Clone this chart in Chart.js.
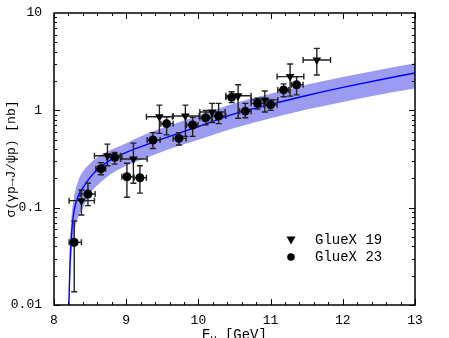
<!DOCTYPE html>
<html>
<head>
<meta charset="utf-8">
<script src="https://cdn.jsdelivr.net/npm/chart.js@4"></script>
<style>
  html, body { margin: 0; padding: 0; background: #fff; }
  #chart { display: block; }
</style>
</head>
<body>
<canvas id="chart" width="449" height="338"></canvas>
<script>
// x ticks and y tick labels
const xTicks = [8, 9, 10, 11, 12, 13];
const yTickLabels = [0.01, 0.1, 1, 10];

// GlueX 19 (triangles)
const g19E = [8.38, 8.74, 9.10, 9.46, 9.82, 10.19, 10.55, 10.92, 11.27, 11.64];
const g19Sigma = [0.118, 0.342, 0.316, 0.86, 0.875, 0.96, 1.41, 1.28, 2.22, 3.29];
const g19Up = [0.152, 0.45, 0.46, 1.13, 1.13, 1.18, 1.83, 1.58, 2.99, 4.33];
const g19Down = [0.084, 0.27, 0.178, 0.58, 0.54, 0.75, 0.83, 0.96, 1.40, 2.31];
const g19ELo = [8.21, 8.56, 8.92, 9.28, 9.65, 10.02, 10.38, 10.73, 11.09, 11.45];
const g19EHi = [8.56, 8.92, 9.29, 9.64, 10.01, 10.37, 10.73, 11.10, 11.46, 11.83];

// GlueX 23 (circles)
const g23E = [8.28, 8.47, 8.65, 8.84, 9.01, 9.19, 9.37, 9.56, 9.73, 9.92, 10.10, 10.28, 10.46, 10.65, 10.82, 11.00, 11.18, 11.36];
const g23Sigma = [0.044, 0.138, 0.251, 0.329, 0.208, 0.203, 0.496, 0.73, 0.515, 0.707, 0.84, 0.875, 1.36, 0.98, 1.18, 1.14, 1.62, 1.83];
const g23Up = [0.073, 0.178, 0.29, 0.37, 0.286, 0.27, 0.59, 0.86, 0.59, 0.85, 1.0, 1.18, 1.55, 1.18, 1.33, 1.28, 1.87, 2.22];
const g23Down = [0.0137, 0.105, 0.218, 0.28, 0.128, 0.141, 0.405, 0.56, 0.44, 0.54, 0.71, 0.73, 1.2, 0.84, 1.03, 1.0, 1.38, 1.44];
const g23ELo = [8.21, 8.36, 8.58, 8.73, 8.94, 9.11, 9.29, 9.48, 9.65, 9.835, 10.02, 10.18, 10.38, 10.57, 10.73, 10.91, 11.10, 11.29];
const g23EHi = [8.38, 8.57, 8.715, 8.94, 9.10, 9.28, 9.47, 9.65, 9.83, 9.995, 10.18, 10.38, 10.54, 10.73, 10.91, 11.09, 11.25, 11.45];

// model curve with its band
const modelE = [8.203, 8.21, 8.22, 8.24, 8.27, 8.3, 8.35, 8.4, 8.5, 8.6, 8.8, 9.0, 9.3, 9.6, 10.0, 10.5, 11.0, 11.5, 12.0, 12.5, 13.0];
const modelMid = [0.008, 0.013, 0.024, 0.05, 0.085, 0.11, 0.14, 0.16, 0.205, 0.245, 0.315, 0.37, 0.45, 0.54, 0.68, 0.92, 1.15, 1.42, 1.72, 2.05, 2.42];
const modelHigh = [0.012, 0.022, 0.04, 0.075, 0.12, 0.155, 0.2, 0.235, 0.285, 0.33, 0.395, 0.46, 0.58, 0.70, 0.88, 1.18, 1.48, 1.83, 2.2, 2.6, 3.04];
const modelLow = [0.005, 0.008, 0.015, 0.03, 0.05, 0.066, 0.085, 0.1, 0.14, 0.17, 0.225, 0.27, 0.33, 0.40, 0.50, 0.66, 0.83, 1.02, 1.22, 1.45, 1.68];

const FONT = "Liberation Mono";
const pts = (xs, ys) => xs.map((x, i) => ({ x: x, y: ys[i] }));

const errorSets = [
  { E: g19E, S: g19Sigma, up: g19Up, down: g19Down, lo: g19ELo, hi: g19EHi },
  { E: g23E, S: g23Sigma, up: g23Up, down: g23Down, lo: g23ELo, hi: g23EHi }
];

const decor = {
  id: "decor",
  afterDatasetDraw(chart, args) {
    if (args.index !== 2) return;
    const ctx = chart.ctx, xs = chart.scales.x, ys = chart.scales.y;
    const a = chart.chartArea;
    ctx.save();
    ctx.beginPath();
    ctx.rect(a.left, a.top, a.right - a.left, a.bottom - a.top);
    ctx.clip();
    ctx.strokeStyle = "#222";
    ctx.lineWidth = 1.4;
    const cap = 3;
    errorSets.forEach(s => {
      s.E.forEach((e, i) => {
        const px = xs.getPixelForValue(e), py = ys.getPixelForValue(s.S[i]);
        const x1 = xs.getPixelForValue(s.lo[i]), x2 = xs.getPixelForValue(s.hi[i]);
        const y1 = ys.getPixelForValue(s.up[i]), y2 = ys.getPixelForValue(s.down[i]);
        ctx.beginPath();
        ctx.moveTo(x1, py); ctx.lineTo(x2, py);
        ctx.moveTo(x1, py - cap); ctx.lineTo(x1, py + cap);
        ctx.moveTo(x2, py - cap); ctx.lineTo(x2, py + cap);
        ctx.moveTo(px, y1); ctx.lineTo(px, y2);
        ctx.moveTo(px - cap, y1); ctx.lineTo(px + cap, y1);
        ctx.moveTo(px - cap, y2); ctx.lineTo(px + cap, y2);
        ctx.stroke();
      });
    });
    ctx.restore();
  },
  afterDraw(chart) {
    const ctx = chart.ctx, xs = chart.scales.x, ys = chart.scales.y;
    const a = chart.chartArea;
    ctx.save();
    ctx.strokeStyle = "#000";
    ctx.lineWidth = 1.5;
    ctx.strokeRect(a.left, a.top, a.right - a.left, a.bottom - a.top);
    ctx.lineWidth = 1;
    ctx.beginPath();
    // x ticks, major and minor, top and bottom, inward
    for (let v = 8; v <= 13.001; v += 0.2) {
      const major = Math.abs(v - Math.round(v)) < 1e-6;
      const len = major ? 6 : 3;
      const px = Math.round(xs.getPixelForValue(v)) + 0.5;
      ctx.moveTo(px, a.bottom); ctx.lineTo(px, a.bottom - len);
      ctx.moveTo(px, a.top); ctx.lineTo(px, a.top + len);
    }
    // y ticks, log minor
    for (let d = -2; d <= 0; d++) {
      for (let m = 1; m <= 9; m++) {
        const v = m * Math.pow(10, d);
        const len = m === 1 ? 6 : 3;
        const py = Math.round(ys.getPixelForValue(v)) + 0.5;
        ctx.moveTo(a.left, py); ctx.lineTo(a.left + len, py);
        ctx.moveTo(a.right, py); ctx.lineTo(a.right - len, py);
      }
    }
    ctx.stroke();

    // axis titles
    ctx.fillStyle = "#000";
    ctx.font = "13px " + FONT;
    ctx.textBaseline = "middle";
    ctx.save();
    ctx.translate(12, (a.top + a.bottom) / 2);
    ctx.rotate(-Math.PI / 2);
    ctx.textAlign = "center";
    ctx.fillText("σ(γp→J/ψp) [nb]", 0, 0);
    ctx.restore();

    const cx = (a.left + a.right) / 2;
    const ty = 335;
    ctx.textAlign = "left";
    ctx.font = "14px " + FONT;
    const wE = ctx.measureText("E").width;
    ctx.font = "10px " + FONT;
    const wG = ctx.measureText("γ").width;
    ctx.font = "14px " + FONT;
    const wRest = ctx.measureText(" [GeV]").width;
    let x0 = cx - (wE + wG + wRest) / 2;
    ctx.fillText("E", x0, ty);
    ctx.font = "10px " + FONT;
    ctx.fillText("γ", x0 + wE, ty + 4);
    ctx.font = "14px " + FONT;
    ctx.fillText(" [GeV]", x0 + wE + wG, ty);

    // legend
    const lx = 291, ly1 = 240, ly2 = 257;
    ctx.beginPath();
    ctx.moveTo(lx - 4.5, ly1 - 3.5); ctx.lineTo(lx + 4.5, ly1 - 3.5); ctx.lineTo(lx, ly1 + 4.5);
    ctx.closePath();
    ctx.fill();
    ctx.beginPath();
    ctx.arc(lx, ly2, 3.8, 0, Math.PI * 2);
    ctx.fill();
    ctx.font = "14px " + FONT;
    ctx.fillText("GlueX 19", 315, ly1);
    ctx.fillText("GlueX 23", 315, ly2);
    ctx.restore();
  }
};

new Chart(document.getElementById("chart"), {
  type: "line",
  data: {
    datasets: [
      {
        label: "GlueX 19",
        data: pts(g19E, g19Sigma),
        showLine: false,
        pointStyle: "triangle",
        rotation: 180,
        pointRadius: 5,
        backgroundColor: "#000",
        borderColor: "#000",
        borderWidth: 0,
        order: 0
      },
      {
        label: "GlueX 23",
        data: pts(g23E, g23Sigma),
        showLine: false,
        pointStyle: "circle",
        pointRadius: 4.5,
        backgroundColor: "#000",
        borderColor: "#000",
        borderWidth: 0,
        order: 0
      },
      {
        label: "model",
        data: pts(modelE, modelMid),
        borderColor: "#0000ff",
        borderWidth: 1.4,
        pointRadius: 0,
        cubicInterpolationMode: "monotone",
        fill: false,
        order: 2
      },
      {
        label: "low",
        data: pts(modelE, modelLow),
        borderWidth: 0,
        borderColor: "rgba(0,0,0,0)",
        pointRadius: 0,
        cubicInterpolationMode: "monotone",
        fill: false,
        order: 3
      },
      {
        label: "high",
        data: pts(modelE, modelHigh),
        borderWidth: 0,
        borderColor: "rgba(0,0,0,0)",
        backgroundColor: "rgb(155,155,242)",
        pointRadius: 0,
        cubicInterpolationMode: "monotone",
        fill: "-1",
        order: 3
      }
    ]
  },
  options: {
    responsive: false,
    animation: false,
    layout: { padding: { top: 13, right: 34, left: 0, bottom: 0 } },
    plugins: {
      legend: { display: false },
      tooltip: { enabled: false }
    },
    scales: {
      x: {
        type: "linear",
        min: xTicks[0],
        max: xTicks[xTicks.length - 1],
        grid: { display: false },
        border: { display: false },
        afterFit: s => { s.height = 33; },
        afterBuildTicks: s => { s.ticks = xTicks.map(v => ({ value: v })); },
        ticks: { color: "#000", font: { family: FONT, size: 13 }, padding: 0, maxRotation: 0 }
      },
      y: {
        type: "logarithmic",
        min: yTickLabels[0],
        max: yTickLabels[yTickLabels.length - 1],
        grid: { display: false },
        border: { display: false },
        afterFit: s => { s.width = 54; },
        afterBuildTicks: s => { s.ticks = yTickLabels.map(v => ({ value: v })); },
        ticks: {
          color: "#000",
          font: { family: FONT, size: 13 },
          padding: 4,
          callback: v => String(v)
        }
      }
    }
  },
  plugins: [decor]
});
</script>
</body>
</html>
